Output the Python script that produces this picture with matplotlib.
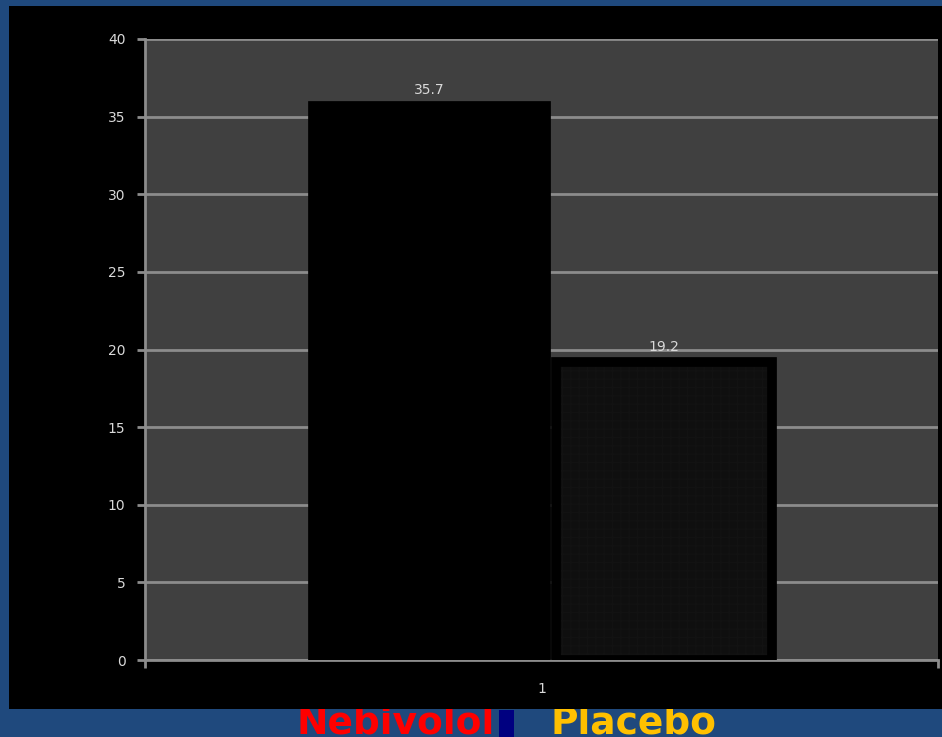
import matplotlib.pyplot as plt
from matplotlib.patches import Rectangle

# datos
series = ['Nebivolol', 'Placebo']
valores = [35.7, 19.2]
categoria = ['1']
colores_leyenda = ['#FF0000', '#FFC000']

fig = plt.figure(figsize=(9.42, 7.37), dpi=100)
fig.patch.set_facecolor('#1F497D')

# panel negro detras del grafico
panel = Rectangle((9 / 942, 28 / 737), 933 / 942, 703 / 737, transform=fig.transFigure,
                  facecolor='black', edgecolor='none', zorder=-1)
fig.patches.append(panel)

ax = fig.add_axes([145 / 942, 77 / 737, 793 / 942, 621 / 737])
ax.set_facecolor('#404040')

# barras (posicion de la izquierda y ancho)
izq = [0.712, 1.018]
anchos = [0.294, 0.273]
caras = ['black', '#0f0f0f']
for i in range(len(series)):
    b = ax.bar(izq[i], valores[i], width=anchos[i], align='edge', color=caras[i],
               edgecolor='black', linewidth=7, zorder=3)
    if i == 1:
        b[0].set_hatch('++')
        b[0]._hatch_color = (0.07, 0.07, 0.07, 1)
    ax.bar_label(b, labels=[str(valores[i])], padding=6, color='#d9d9d9', fontsize=10)

ax.set_xlim(0.5, 1.5)
ax.set_ylim(0, 40)
ax.set_yticks(range(0, 41, 5))
ax.yaxis.grid(True, color='#8c8c8c', linewidth=2)
ax.set_axisbelow(True)
ax.set_xticks([1])
ax.set_xticklabels(categoria)
ax.set_xticks([0.5, 1.5], minor=True)
ax.tick_params(axis='x', which='major', length=0, pad=16, colors='#d9d9d9', labelsize=10)
ax.tick_params(axis='x', which='minor', length=6, width=2, color='#8c8c8c')
ax.tick_params(axis='y', length=6, width=2, color='#8c8c8c', labelcolor='#d9d9d9',
               labelsize=10, pad=8)

for s in ['top', 'right']:
    ax.spines[s].set_visible(False)
for s in ['left', 'bottom']:
    ax.spines[s].set_color('#8c8c8c')
    ax.spines[s].set_linewidth(2)

# leyenda de texto debajo del panel (queda cortada por el panel como en el original)
fig.text(296 / 942, 4 / 737, series[0], color=colores_leyenda[0], fontsize=27,
         fontweight='bold', zorder=-2)
fig.patches.append(Rectangle((499 / 942, 0), 15 / 942, 27 / 737, transform=fig.transFigure,
                             facecolor='#000080', edgecolor='none', zorder=-2))
fig.text(551 / 942, 4 / 737, series[1], color=colores_leyenda[1], fontsize=27,
         fontweight='bold', zorder=-2)

fig.savefig('out.png', dpi=100, facecolor=fig.get_facecolor())
